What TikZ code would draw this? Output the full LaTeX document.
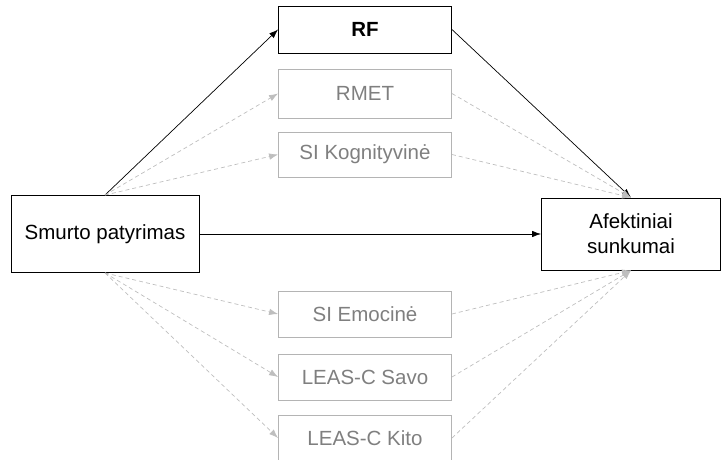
\documentclass[tikz,border=0pt]{standalone}
\usepackage{fontspec}
\setmainfont{Liberation Sans}
\usetikzlibrary{arrows.meta}
\definecolor{boxgray}{HTML}{B4B4B4}
\definecolor{textgray}{HTML}{7F7F7F}
\definecolor{linegray}{HTML}{BEBEBE}
\begin{document}
\begin{tikzpicture}[x=1pt,y=-1pt,->,>={Latex[length=9pt,width=6.5pt]},
      main node/.style={rectangle,draw,line width=0.9pt,inner sep=0pt,
        minimum width=173pt,minimum height=46pt,align=center,
        font=\fontsize{20.5}{25}\selectfont},
      weak node/.style={main node,draw=boxgray,text=textgray},
      weak edge/.style={color=linegray,dash pattern=on 4pt off 3pt,line width=0.7pt},
      strong edge/.style={color=black,line width=0.7pt}]
 \useasboundingbox (0,0) rectangle (723,460);
 \clip (0,0) rectangle (723,460);
 \node[main node, minimum width=188pt, minimum height=77pt] (smurto) at (105,234) {Smurto patyrimas};
 \node[main node, minimum width=179pt, minimum height=72pt] (afekt) at (631,234) {Afektiniai\\sunkumai};
 \node[main node, minimum height=47pt, font=\fontsize{20.5}{25}\selectfont\bfseries] (rf) at (365,29.5) {RF};
 \node[weak node, minimum height=49pt] (rmet) at (365,93.5) {RMET};
 \node[weak node, minimum height=45pt] (sikog) at (365,154.5) {SI Kognityvinė};
 \node[weak node] (siemo) at (365,314) {SI Emocinė};
 \node[weak node] (savo) at (365,377) {LEAS-C Savo};
 \node[weak node] (kito) at (365,438) {LEAS-C Kito};

\path[strong edge]
 (smurto.north) edge (rf.west)
 (rf.east) edge (afekt.north)
 (smurto.east) edge (afekt.west)
 ;
\path[weak edge]
 (smurto.north) edge (rmet.west)
 (smurto.north) edge (sikog.west)
 (smurto.south) edge (siemo.west)
 (smurto.south) edge (savo.west)
 (smurto.south) edge (kito.west)
 (rmet.east) edge (afekt.north)
 (sikog.east) edge (afekt.north)
 (siemo.east) edge (afekt.south)
 (savo.east) edge (afekt.south)
 (kito.east) edge (afekt.south)
 ;
\end{tikzpicture}
\end{document}
